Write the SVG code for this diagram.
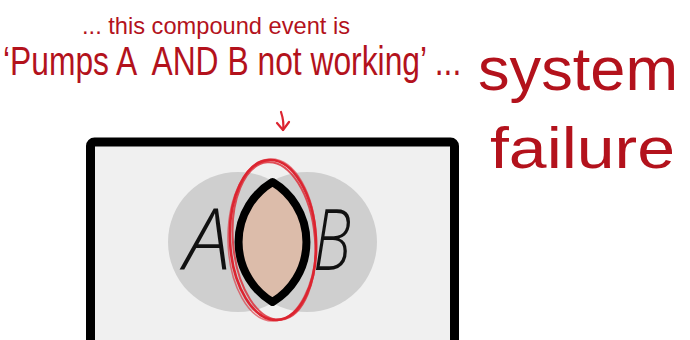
<svg xmlns="http://www.w3.org/2000/svg" width="690" height="340" viewBox="0 0 690 340">
<defs>
<style>
.hand{font-family:"Liberation Sans","DejaVu Sans",sans-serif;fill:#b3121c}
.lbl{font-family:"Open Sans","Liberation Sans",sans-serif;font-style:italic;font-weight:300;font-size:84px;fill:#111}
.red{fill:none;stroke:#dc2531;stroke-linecap:round}
</style>
</defs>
<rect width="690" height="340" fill="#ffffff"/>
<g id="annotation">
<text class="hand" x="82" y="34" font-size="24" textLength="268" lengthAdjust="spacingAndGlyphs">... this compound event is</text>
<text class="hand" transform="translate(3 75) scale(0.795 1)" x="0" y="0" font-size="40" xml:space="preserve">‘Pumps A  AND B not working’ ...</text>
</g>
<g id="system-failure">
<text class="hand" x="478" y="90" font-size="62" textLength="200" lengthAdjust="spacingAndGlyphs">system</text>
<text class="hand" x="490" y="168" font-size="58" textLength="185" lengthAdjust="spacingAndGlyphs">failure</text>
</g>
<g id="sample-space">
<rect x="90.5" y="142" width="364" height="220" rx="4" fill="#f0f0f0" stroke="#000" stroke-width="9"/>
</g>
<g id="event-a">
<circle cx="238" cy="242" r="70" fill="#cfcfcf"/>
</g>
<g id="event-b">
<circle cx="307" cy="242" r="70" fill="#cfcfcf"/>
</g>
<g id="intersection">
<path d="M272.5,182 A70,70 0 0 1 272.5,302 A70,70 0 0 1 272.5,182 Z" fill="#dcbcaa" stroke="#000" stroke-width="8" stroke-linejoin="round"/>
<ellipse class="red" cx="273" cy="240" rx="43" ry="80" stroke-width="2.6" transform="rotate(-3 273 240)"/>
<ellipse class="red" cx="274" cy="241" rx="41" ry="79" stroke-width="2" opacity="0.8" transform="rotate(-5 274 241)"/>
<ellipse class="red" cx="272" cy="240" rx="44" ry="81" stroke-width="1.5" opacity="0.6" transform="rotate(-1 272 240)"/>
</g>
<g id="label-a">
<text class="lbl" x="184" y="270">A</text>
</g>
<g id="label-b">
<text class="lbl" x="313" y="270" textLength="38" lengthAdjust="spacingAndGlyphs">B</text>
</g>
<g id="connectors">
<path class="red" d="M281,112 C283,118 284,124 283,130" stroke-width="2.2"/>
<path class="red" d="M277,123 L283,130 L289,122" stroke-width="2.2" stroke-linejoin="round"/>
</g>
</svg>
